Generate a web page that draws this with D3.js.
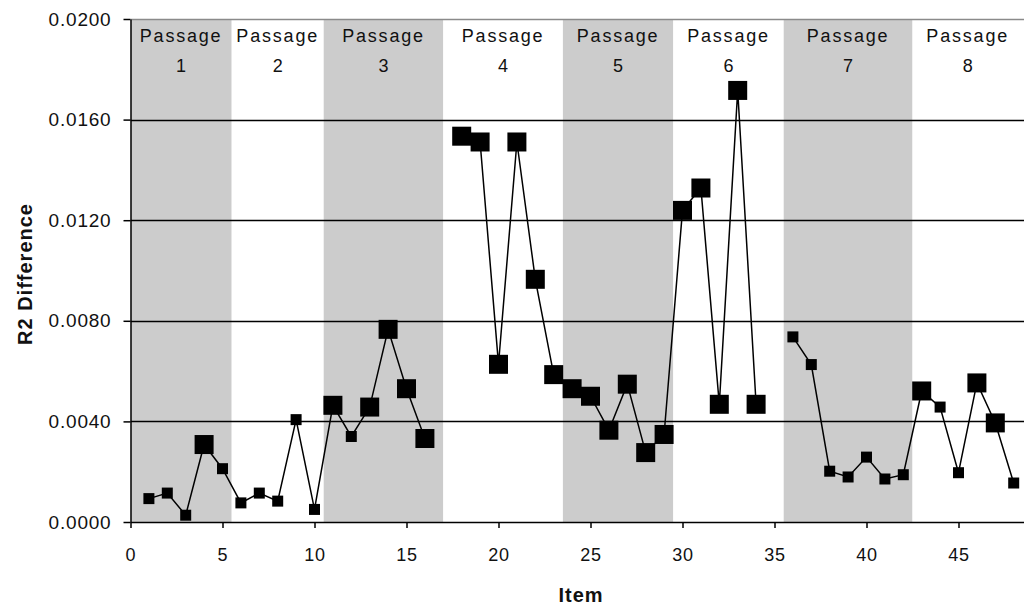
<!DOCTYPE html>
<html>
<head>
<meta charset="utf-8">
<script src="https://cdn.jsdelivr.net/npm/d3@7"></script>
<style>
  html, body { margin: 0; padding: 0; background: #fff; }
  svg { display: block; }
  text { font-family: "Liberation Sans", Arial, sans-serif; fill: #111; }
</style>
</head>
<body>
<svg id="chart" width="1024" height="608"></svg>
<script>
// ---- Data ----
const items = [1,2,3,4,5,6,7,8,9,10,11,12,13,14,15,16,17,18,19,20,21,22,23,24,25,26,27,28,29,30,31,32,33,34,35,36,37,38,39,40,41,42,43,44,45,46,47,48];
const r2Diff = [0.00093,0.00115,0.00027,0.00308,0.00212,0.00076,0.00115,0.00083,0.00407,0.00050,
                0.00464,0.00340,0.00457,0.00766,0.00530,0.00332,null,0.01534,0.01511,0.00627,
                0.01511,0.00965,0.00586,0.00530,0.00500,0.00365,0.00548,0.00276,0.00348,0.01239,
                0.01328,0.00468,0.01716,0.00468,null,0.00736,0.00626,0.00202,0.00179,0.00258,
                0.00171,0.00188,0.00521,0.00457,0.00196,0.00553,0.00394,0.00155];
// 1 = large marker, 0 = small marker
const bigMarker = [0,0,0,1,0,0,0,0,0,0,
                   1,0,1,1,1,1,0,1,1,1,
                   1,1,1,1,1,1,1,1,1,1,
                   1,1,1,1,0,0,0,0,0,0,
                   0,0,1,0,0,1,1,0];
const passageNames = ["1","2","3","4","5","6","7","8"];
const passageStart = [0, 5.5, 10.5, 17, 23.5, 29.5, 35.5, 42.5];
const passageEnd   = [5.5, 10.5, 17, 23.5, 29.5, 35.5, 42.5, 48.5];
const yTicks = [0, 0.004, 0.008, 0.012, 0.016, 0.020];
const xTicks = [0, 5, 10, 15, 20, 25, 30, 35, 40, 45];

// ---- Layout ----
const W = 1024, H = 608;
const pLeft = 130.5, pTop = 19, pBottom = 522;
const svg = d3.select("#chart");

const x = d3.scaleLinear().domain([0, 50]).range([pLeft, pLeft + 920]);
const y = d3.scaleLinear().domain([0, 0.02]).range([pBottom, pTop]);

svg.append("defs").append("clipPath").attr("id", "plotClip")
  .append("rect").attr("x", pLeft).attr("y", pTop - 2).attr("width", W - pLeft).attr("height", pBottom - pTop + 4);

const plot = svg.append("g").attr("clip-path", "url(#plotClip)");

// bands
const passages = passageNames.map((n, i) => ({name: n, s: passageStart[i], e: passageEnd[i], i}));
plot.selectAll("rect.band").data(passages).join("rect")
  .attr("class", "band")
  .attr("x", d => x(d.s))
  .attr("y", y(0.02))
  .attr("width", d => x(d.e) - x(d.s))
  .attr("height", y(0) - y(0.02))
  .attr("fill", d => d.i % 2 === 0 ? "#cccccc" : "#ffffff");

// gridlines
plot.selectAll("line.grid").data(yTicks.filter(t => t > 0)).join("line")
  .attr("class", "grid")
  .attr("x1", pLeft).attr("x2", W)
  .attr("y1", d => Math.round(y(d)) + 0.5).attr("y2", d => Math.round(y(d)) + 0.5)
  .attr("stroke", d => d >= 0.02 ? "#8a8a8a" : "#000")
  .attr("stroke-width", 1.5);

// passage labels
const lab = svg.append("g");
passages.forEach(d => {
  const cx = (x(d.s) + x(d.e)) / 2;
  lab.append("text").attr("x", cx).attr("y", 42).attr("text-anchor", "middle")
    .style("font-size", "18px").style("letter-spacing", "1.8px").text("Passage");
  lab.append("text").attr("x", cx).attr("y", 72).attr("text-anchor", "middle")
    .style("font-size", "18px").text(d.name);
});

// axes
const yAxis = d3.axisLeft(y).tickValues(yTicks).tickFormat(d3.format(".4f"))
  .tickSize(7).tickSizeOuter(0).tickPadding(12);
const gy = svg.append("g").attr("transform", `translate(${pLeft},0)`).call(yAxis);
gy.selectAll("text").style("font-size", "19px").style("letter-spacing", "0.8px").attr("fill", "#111");
gy.selectAll("line, path").attr("stroke", "#000").attr("stroke-width", 1.5);

const xAxis = d3.axisBottom(x).tickValues(xTicks).tickFormat(d3.format("d"))
  .tickSize(6).tickSizeOuter(0).tickPadding(20);
const gx = svg.append("g").attr("transform", `translate(0,${pBottom})`).call(xAxis);
gx.selectAll("text").style("font-size", "18px").style("letter-spacing", "0.8px").attr("fill", "#111");
gx.selectAll("line, path").attr("stroke", "#000").attr("stroke-width", 1.5);

// data line
const pts = items.map((it, i) => ({x: it, v: r2Diff[i], big: bigMarker[i]}));
const line = d3.line().defined(d => d.v !== null).x(d => x(d.x)).y(d => y(d.v));
svg.append("path").datum(pts).attr("d", line)
  .attr("fill", "none").attr("stroke", "#000").attr("stroke-width", 1.5);

svg.selectAll("rect.mk").data(pts.filter(d => d.v !== null)).join("rect")
  .attr("class", "mk")
  .attr("x", d => x(d.x) - (d.big ? 9.5 : 5.5))
  .attr("y", d => y(d.v) - (d.big ? 9.5 : 5.5))
  .attr("width", d => d.big ? 19 : 11)
  .attr("height", d => d.big ? 19 : 11)
  .attr("fill", "#000");

// axis titles
svg.append("text").attr("x", 581).attr("y", 602).attr("text-anchor", "middle")
  .style("font-size", "20px").style("font-weight", "bold").style("letter-spacing", "1px").text("Item");
svg.append("text").attr("transform", "translate(32,274) rotate(-90)").attr("text-anchor", "middle")
  .style("font-size", "20px").style("font-weight", "bold").style("letter-spacing", "1px").text("R2 Difference");
</script>
</body>
</html>
